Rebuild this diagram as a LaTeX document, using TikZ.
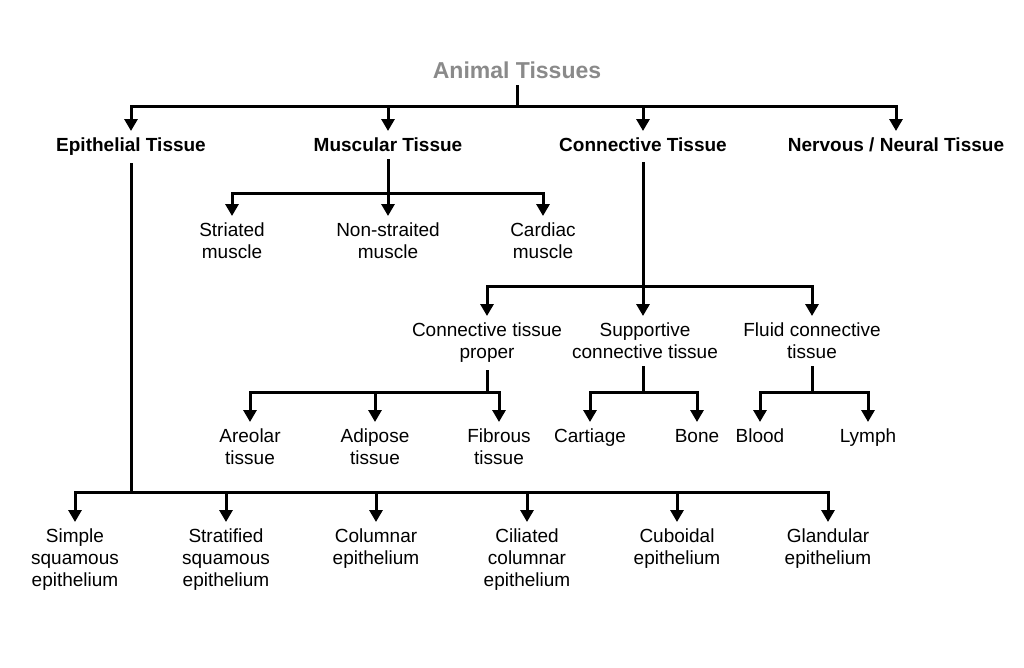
\documentclass[tikz,border=0pt]{standalone}
\usepackage{fontspec}
\setmainfont{Liberation Sans}
\usetikzlibrary{arrows.meta}
\definecolor{titlegray}{HTML}{8A8A8A}
\tikzset{
  conn/.style={line width=3pt, black},
  bar/.style={line width=3pt, black, line cap=rect},
  arr/.style={line width=3pt, black, -{Triangle[width=13pt,length=12pt]}},
  head/.style={font=\fontsize{19}{22}\selectfont\bfseries, inner xsep=0pt, inner ysep=7pt, anchor=north},
  leaf/.style={font=\fontsize{19}{22}\selectfont, align=center, inner xsep=0pt, inner ysep=7pt, anchor=north},
  ttl/.style={font=\fontsize{23}{27}\selectfont\bfseries, text=titlegray, inner xsep=0pt, inner ysep=7pt, anchor=base}
}
\begin{document}
\begin{tikzpicture}[x=1pt,y=-1pt]
\useasboundingbox[fill=white] (0,0) rectangle (1024,667);
% bar levels
\coordinate (b0) at (0,106);
\coordinate (bm) at (0,193);
\coordinate (bc) at (0,286);
\coordinate (bl) at (0,392);
\coordinate (be) at (0,492);
% title
\node[ttl] (root) at (517,78) {Animal Tissues};
% headers
\node[head] (epi) at (131,131) {Epithelial Tissue};
\node[head] (mus) at (388,131) {Muscular Tissue};
\node[head] (con) at (643,131) {Connective Tissue};
\node[head] (ner) at (896,131) {Nervous / Neural Tissue};
% muscle children
\node[leaf] (str) at (232,216) {Striated\\muscle};
\node[leaf] (nst) at (388,216) {Non-straited\\muscle};
\node[leaf] (car) at (543,216) {Cardiac\\muscle};
% connective children
\node[leaf] (ctp) at (487,316) {Connective tissue\\proper};
\node[leaf] (sup) at (645,316) {Supportive\\connective tissue};
\node[leaf] (flu) at (812,316) {Fluid connective\\tissue};
% third level
\node[leaf] (are) at (250,422) {Areolar\\tissue};
\node[leaf] (adi) at (375,422) {Adipose\\tissue};
\node[leaf] (fib) at (499,422) {Fibrous\\tissue};
\node[leaf] (cart) at (590,422) {Cartiage};
\node[leaf] (bone) at (697,422) {Bone};
\node[leaf] (blo) at (760,422) {Blood};
\node[leaf] (lym) at (868,422) {Lymph};
% epithelium children
\node[leaf] (ssq) at (75,522) {Simple\\squamous\\epithelium};
\node[leaf] (stq) at (226,522) {Stratified\\squamous\\epithelium};
\node[leaf] (col) at (376,522) {Columnar\\epithelium};
\node[leaf] (cil) at (527,522) {Ciliated\\columnar\\epithelium};
\node[leaf] (cub) at (677,522) {Cuboidal\\epithelium};
\node[leaf] (gla) at (828,522) {Glandular\\epithelium};

% root -> headers
\draw[conn] (root.south) -- (root.south |- b0);
\draw[bar] (epi.north |- b0) -- (ner.north |- b0);
\foreach \n in {epi,mus,con,ner} \draw[arr] (\n.north |- b0) -- (\n.north);
% muscular
\draw[conn] (mus.south) -- (mus.south |- bm);
\draw[bar] (str.north |- bm) -- (car.north |- bm);
\foreach \n in {str,nst,car} \draw[arr] (\n.north |- bm) -- (\n.north);
% connective
\draw[conn] ([yshift=-3pt]con.south) -- (con.south |- bc);
\draw[bar] (ctp.north |- bc) -- (flu.north |- bc);
\foreach \n in {ctp,flu} \draw[arr] (\n.north |- bc) -- (\n.north);
\draw[arr] (con.south |- bc) -- (con.south |- sup.north);
% connective tissue proper
\draw[conn] (ctp.south) -- (ctp.south |- bl);
\draw[bar] (are.north |- bl) -- (fib.north |- bl);
\foreach \n in {are,adi,fib} \draw[arr] (\n.north |- bl) -- (\n.north);
% supportive
\draw[conn] (sup.south -| con.south) -- (con.south |- bl);
\draw[bar] (cart.north |- bl) -- (bone.north |- bl);
\foreach \n in {cart,bone} \draw[arr] (\n.north |- bl) -- (\n.north);
% fluid
\draw[conn] (flu.south) -- (flu.south |- bl);
\draw[bar] (blo.north |- bl) -- (lym.north |- bl);
\foreach \n in {blo,lym} \draw[arr] (\n.north |- bl) -- (\n.north);
% epithelial
\draw[conn] (epi.south) -- (epi.south |- be);
\draw[bar] (ssq.north |- be) -- (gla.north |- be);
\foreach \n in {ssq,stq,col,cil,cub,gla} \draw[arr] (\n.north |- be) -- (\n.north);
\end{tikzpicture}
\end{document}
